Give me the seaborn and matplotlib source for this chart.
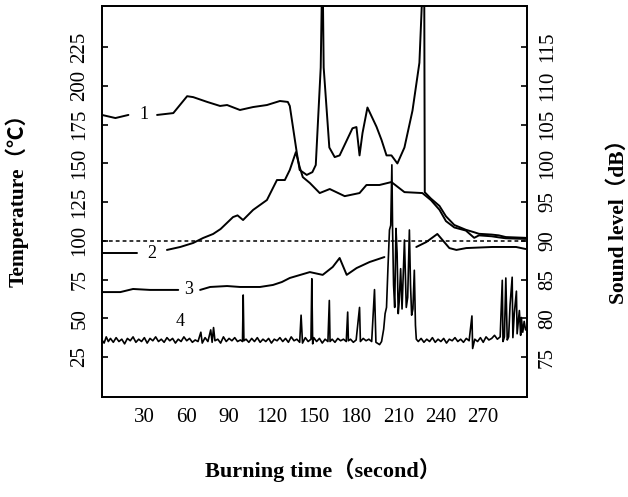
import numpy as np
import pandas as pd
import matplotlib
matplotlib.use("Agg")
import matplotlib.pyplot as plt
import seaborn as sns

# ---------------- data ----------------
# Curve 1 (temperature, degC); NaN = break for the label
t1 = [0, 9.5, 18.7, np.nan, 39, 50.5, 60.3, 64.6, 74.5, 83.6, 88.6, 97.7, 107, 116.8, 126, 131.6, 133,
      138, 140, 145, 149, 151.4, 154.9, 155.9, 156.3, 157, 161, 164.8, 168.3, 177.4, 180.2, 182.4, 184.5,
      188, 194.4, 198, 201.5, 205, 209.2, 214.2, 219.9, 224.8, 227.3, 228.2, 228.6, 233, 239, 243.6,
      249.5, 257.7, 263.6, 267, 276, 281, 286, 300]
T1 = [181.2, 179.2, 181.2, np.nan, 181.2, 182.4, 193.3, 192.7, 189.6, 187.0, 187.6, 184.4, 186.3, 187.6,
      190.2, 189.6, 187.0, 156.6, 145.7, 142.5, 144.3, 148.9, 211.8, 270, 270, 211.8, 160.2, 154.0, 155.1,
      172.6, 173.4, 155.1, 169.5, 186.0, 173.6, 165.0, 155.1, 155.1, 149.9, 160.2, 184.0, 214.9, 270, 270,
      131.3, 127.2, 122.5, 115.8, 110.2, 107.1, 105.5, 104.5, 104.0, 103.5, 102.4, 101.9]

# Curve 2 (temperature, degC)
t2 = [0, 25, np.nan, 46, 55.4, 64.6, 71.6, 78.7, 84, 92.8, 96, 99.9, 107, 116.8, 123.9, 129.5, 133, 137.3,
      140, 142.2, 147.2, 154.2, 161.3, 171.9, 182.4, 187.3, 196.5, 205, 214.2, 226.9, 233, 239, 243.6,
      249.5, 257.7, 263.6, 267, 276, 281, 286, 300]
T2 = [92.1, 92.1, np.nan, 94.1, 96.0, 98.6, 101.8, 104.4, 107.6, 115.3, 116.4, 113.4, 119.9, 126.3, 139.2,
      139.2, 145.7, 157.2, 147.6, 141.1, 137.3, 130.8, 133.4, 128.8, 130.8, 136.0, 136.0, 137.9, 131.4,
      130.8, 126.2, 120.0, 112.7, 108.6, 106.6, 101.9, 103.5, 102.9, 102.2, 101.6, 101.2]

# Curve 3 (temperature, degC)
t3 = [0, 13, 22, 34, 54, np.nan, 69.5, 76.6, 88.6, 97.7, 111.9, 121.1, 127.4, 133, 147.2, 156.3, 163.4,
      168.3, 173.3, 180.3, 189.5, 200, np.nan, 222.6, 229.7, 237.5, 246, 251, 258, 276.3, 293.3, 300]
T3 = [66.9, 66.9, 68.9, 68.3, 68.3, np.nan, 68.3, 70.2, 70.8, 70.2, 70.2, 71.5, 73.4, 76.0, 79.8, 78.0,
      83.1, 88.9, 78.0, 82.4, 86.3, 89.5, np.nan, 96.0, 99.2, 104.4, 95.3, 94.1, 95.3, 96.0, 96.0, 94.7]

# Curve 4 (sound level, dB)
t4 = [0, 1.5, 3, 4.5, 6, 8, 10, 12, 14, 16,
      18, 20, 22, 24, 26, 28, 30, 32, 34, 36,
      38, 40, 42, 44, 46, 48, 50, 52, 54, 56,
      58, 60, 62, 64, 66, 68, 70, 71, 73, 75,
      77, 78, 79, 80, 82, 84, 86, 88, 90, 92,
      94, 96, 98, 99.5, 100, 100.5, 102, 104, 106, 108,
      110, 112, 114, 116, 118, 120, 122, 124, 126, 128,
      130, 132, 134, 136, 138, 140, 141, 142, 144, 146,
      148, 148.6, 149.2, 150, 152, 154, 156, 158, 160, 161,
      161.5, 163, 165, 167, 169, 171, 173, 174, 174.5, 176,
      178, 180, 182.4, 183, 185, 187, 189, 191, 193, 194,
      196.6, 198, 199.5, 200.5, 201.5, 202.5, 203.6, 204.5, 205.3, 205.8,
      206.5, 207.3, 208.2, 209, 209.8, 210.5, 211.5, 212.5, 214.2, 215.5,
      216.5, 217.7, 218.5, 219.3, 220.2, 221.2, 222, 222.6, 224, 226,
      228, 230, 232, 234, 236, 238, 240, 242, 244, 246,
      248, 250, 252, 254, 256, 258, 260, 262, 262.5, 264,
      266, 268, 270, 272, 274, 276, 278, 280, 282, 283.5,
      284, 285, 286, 287, 288, 289, 290.5, 291, 292, 293.5,
      294, 295.6, 296.5, 297, 298, 299, 300]
dB4 = [77.2, 76.8, 77.6, 77.0, 77.4, 76.9, 77.5, 77.0, 77.3, 76.7,
       77.4, 77.1, 77.6, 76.9, 77.3, 77.0, 77.5, 76.8, 77.4, 77.1,
       77.6, 77.0, 77.3, 76.9, 77.5, 77.1, 77.4, 76.8, 77.3, 77.0,
       77.6, 77.1, 77.4, 76.9, 77.2, 77.0, 78.2, 76.8, 77.5, 77.0,
       78.5, 76.9, 78.8, 77.1, 77.3, 76.8, 77.6, 77.0, 77.4, 77.1,
       77.5, 77.0, 77.2, 77.0, 83.0, 77.1, 77.3, 76.9, 77.4, 77.0,
       77.5, 76.9, 77.3, 77.0, 77.4, 76.8, 77.3, 77.1, 77.5, 77.0,
       77.4, 76.9, 77.6, 77.1, 77.3, 76.9, 80.4, 76.8, 77.5, 77.0,
       77.3, 85.1, 76.7, 77.5, 77.0, 77.4, 76.8, 77.3, 77.0, 82.3,
       77.0, 77.3, 76.9, 77.4, 77.1, 77.3, 77.0, 80.8, 77.1, 77.3,
       76.9, 77.2, 81.4, 77.0, 77.4, 77.1, 77.3, 77.0, 83.7, 76.9,
       76.6, 77.0, 78.6, 80.6, 81.4, 86.4, 91.4, 92.0, 99.8, 91.5,
       84.3, 81.4, 91.6, 88.4, 80.6, 82.2, 86.4, 81.2, 90.1, 81.4,
       82.7, 91.4, 84.3, 80.4, 81.2, 86.2, 79.1, 77.3, 77.0, 77.4,
       76.9, 77.3, 77.0, 77.5, 76.9, 77.3, 77.0, 77.4, 76.8, 77.3,
       77.1, 77.5, 77.0, 77.3, 76.9, 77.4, 77.1, 80.3, 76.1, 77.3,
       77.0, 77.5, 76.9, 77.6, 77.2, 77.4, 77.8, 77.3, 77.6, 84.9,
       77.0, 77.6, 85.2, 77.2, 77.6, 81.7, 85.3, 77.5, 80.6, 83.5,
       78.0, 81.0, 77.8, 80.1, 78.2, 79.6, 78.5]

REF_DB = 90          # dashed reference level
curve_labels = ["1", "2", "3", "4"]
label_t = [30, 35.5, 61, 55.4]
label_T = [181.2, 91.6, 68.4, 47.7]

x_ticks = [30, 60, 90, 120, 150, 180, 210, 240, 270]
left_ticks = [25, 50, 75, 100, 125, 150, 175, 200, 225]
right_ticks = [75, 80, 85, 90, 95, 100, 105, 110, 115]
X_LIM = (0, 301)
LEFT_LIM = (-0.8, 251.5)
RIGHT_LIM = (69.84, 120.3)


def segmented(t, v, name):
    df = pd.DataFrame({"t": t, "v": v})
    df["seg"] = df["v"].isna().cumsum()
    df = df.dropna().copy()
    df["curve"] = name
    return df


# ---------------- style ----------------
sns.set_theme(style="white")
serif = ["Liberation Serif", "DejaVu Serif"]
plt.rcParams["font.family"] = serif
plt.rcParams["text.color"] = "black"
plt.rcParams["axes.edgecolor"] = "black"
plt.rcParams["axes.linewidth"] = 1.3

fig = plt.figure(figsize=(6.28, 4.97), dpi=100)
ax = fig.add_axes([102 / 628, 1 - 397 / 497, 425 / 628, 391 / 497])
ax2 = ax.twinx()

for t, v, name in [(t1, T1, "c1"), (t2, T2, "c2"), (t3, T3, "c3")]:
    sns.lineplot(data=segmented(t, v, name), x="t", y="v", units="seg", estimator=None,
                 sort=False, color="black", lw=1.4, ax=ax, legend=False)

df4 = pd.DataFrame({"t": t4, "dB": dB4})
sns.lineplot(data=df4, x="t", y="dB", estimator=None, sort=False, color="black",
             lw=1.2, ax=ax2, legend=False)
ax2.axhline(REF_DB, color="black", lw=1.1, ls=(0, (2.5, 2)))

for lab, lt, lv in zip(curve_labels, label_t, label_T):
    ax.text(lt, lv, lab, ha="center", va="center", fontsize=13, color="black")

ax.set_xlim(*X_LIM)
ax.set_ylim(*LEFT_LIM)
ax2.set_ylim(*RIGHT_LIM)
ax.set_xticks(x_ticks)
ax.set_yticks(left_ticks)
ax2.set_yticks(right_ticks)
ax.set_xlabel("")
ax.set_ylabel("")
ax2.set_xlabel("")
ax2.set_ylabel("")

ax.tick_params(axis="x", direction="in", length=4, width=1.2, pad=8, labelsize=15,
               colors="black", labelcolor="black")
ax.tick_params(axis="y", direction="in", length=4, width=1.2, pad=9, labelsize=15,
               labelrotation=90, colors="black", labelcolor="black", left=True, right=False)
ax2.tick_params(axis="y", direction="in", length=4, width=1.2, pad=8, labelsize=15,
                labelrotation=90, colors="black", labelcolor="black", right=True, left=False)
plt.setp(ax.get_yticklabels(), va="center")
plt.setp(ax2.get_yticklabels(), va="center")
for a in (ax, ax2):
    for s in a.spines.values():
        s.set_color("black")
        s.set_linewidth(1.3)

lab_font = ["Liberation Serif", "Noto Sans CJK SC", "DejaVu Sans"]
fig.text(323 / 628, 1 - 470 / 497, "Burning time（second）", ha="center", va="center",
         fontsize=16, fontweight="bold", family=lab_font, color="black")
fig.text(17 / 628, 1 - 195 / 497, "Temperature（℃）", ha="center", va="center", rotation=90,
         fontsize=15.5, fontweight="bold", family=lab_font, color="black")
fig.text(619 / 628, 1 - 216 / 497, "Sound level（dB）", ha="center", va="center", rotation=90,
         fontsize=15.5, fontweight="bold", family=lab_font, color="black")

fig.savefig("out.png", dpi=100)
